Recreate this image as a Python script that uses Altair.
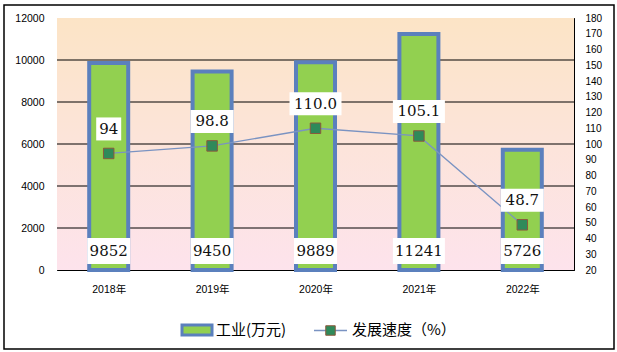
import altair as alt
import pandas as pd

# ---- data ----
years = ["2018年", "2019年", "2020年", "2021年", "2022年"]
industry = [9852, 9450, 9889, 11241, 5726]
speed = [94, 98.8, 110.0, 105.1, 48.7]
speed_labels = ["94", "98.8", "110.0", "105.1", "48.7"]
left_ticks = [0, 2000, 4000, 6000, 8000, 10000, 12000]
right_ticks = [20, 30, 40, 50, 60, 70, 80, 90, 100, 110, 120, 130, 140, 150, 160, 170, 180]
series_names = ["工业(万元)", "发展速度（%）"]

W, H = 517, 252
BAR_FILL = "#92D050"
BAR_STROKE = "#5B80BD"
LINE_COLOR = "#7A93C2"
MARK_FILL = "#2F8A5A"
MARK_STROKE = "#8B5A3C"
LABEL_FONT = "DejaVu Serif"
AXIS_FONT = "Liberation Sans, Noto Sans CJK SC"


def box(w, h):
    return f"M{-w/2},{-h/2}L{w/2},{-h/2}L{w/2},{h/2}L{-w/2},{h/2}Z"


df = pd.DataFrame({"year": years, "industry": industry, "speed": speed,
                   "speed_label": speed_labels})
df["ind_label"] = [str(v) for v in industry]
df["ind_box"] = [box(9.0 * len(s) + 7, 26) for s in df["ind_label"]]
df["spd_box"] = [box(9.0 * len(s) + 7, 23) for s in speed_labels]

x_enc = alt.X("year:N", sort=years,
              scale=alt.Scale(paddingInner=0, paddingOuter=0),
              axis=alt.Axis(title=None, labelAngle=0, offset=-7, tickSize=7,
                            tickBand="extent", domain=False, labelPadding=14,
                            labelFontSize=10.5, labelFont=AXIS_FONT,
                            labelColor="#000", tickColor="#000", grid=False))


def y_left(field):
    return alt.Y(f"{field}:Q", scale=alt.Scale(domain=[0, 12000], nice=False),
                 axis=alt.Axis(title=None, values=left_ticks, format="d", ticks=False,
                               domain=False, grid=False, labelPadding=13,
                               labelFontSize=10.5, labelFont=AXIS_FONT,
                               labelColor="#000"))


y_right = alt.Y("speed:Q", scale=alt.Scale(domain=[20, 180], nice=False),
                axis=alt.Axis(title=None, orient="right", values=right_ticks, format="d",
                              offset=-5, tickSize=5, domain=False, grid=False,
                              labelPadding=11, labelFontSize=10,
                              labelFont="Liberation Sans", labelColor="#000",
                              tickColor="#000"))

one = alt.Data(values=[{}])

bg = alt.Chart(one).mark_rect(
    fill=alt.Gradient(gradient="linear",
                      stops=[alt.GradientStop(color="#FCE4C6", offset=0),
                             alt.GradientStop(color="#FCE4DA", offset=0.5),
                             alt.GradientStop(color="#FDE3EC", offset=1)],
                      x1=0, x2=0, y1=0, y2=1)
).encode(x=alt.value(0), x2=alt.value("width"), y=alt.value(0), y2=alt.value("height"))

grid = alt.Chart(pd.DataFrame({"g": left_ticks[1:-1]})).mark_rule(
    color="black", strokeWidth=1).encode(y=y_left("g"))

bars = alt.Chart(df).mark_bar(width=39, fill=BAR_FILL, stroke=BAR_STROKE,
                              strokeWidth=4).encode(x=x_enc, y=y_left("industry"))

bar_boxes = alt.Chart(df).mark_point(filled=True, fill="white", size=4, opacity=1,
                                     strokeWidth=0, yOffset=-19).encode(
    x=x_enc, y=alt.value("height"), shape=alt.Shape("ind_box:N", scale=None))

bar_text = alt.Chart(df).mark_text(font=LABEL_FONT, fontSize=15, color="#111",
                                   baseline="middle", dy=-19).encode(
    x=x_enc, y=alt.value("height"), text="ind_label:N")

left_group = alt.layer(bg, grid, bars, bar_boxes, bar_text)

line = alt.Chart(df).mark_line(color=LINE_COLOR, strokeWidth=1.3).encode(x=x_enc, y=y_right)
pts = alt.Chart(df).mark_point(shape="square", filled=True, fill=MARK_FILL,
                               stroke=MARK_STROKE, strokeWidth=1, size=110,
                               opacity=1).encode(x=x_enc, y=y_right)
spd_boxes = alt.Chart(df).mark_point(filled=True, fill="white", size=4, opacity=1,
                                     strokeWidth=0, yOffset=-24.5).encode(
    x=x_enc, y=y_right, shape=alt.Shape("spd_box:N", scale=None))
spd_text = alt.Chart(df).mark_text(font=LABEL_FONT, fontSize=15, color="#111",
                                   baseline="middle", dy=-24.5).encode(
    x=x_enc, y=y_right, text="speed_label:N")

right_group = alt.layer(line, pts, spd_boxes, spd_text)

# decoration: outer frame and manual legend
frame = alt.Chart(one).mark_rect(fill="transparent", stroke="black", strokeWidth=1.5).encode(
    x=alt.value(-53), x2=alt.value(557), y=alt.value(-13), y2=alt.value(331))
leg_rect = alt.Chart(one).mark_rect(fill=BAR_FILL, stroke=BAR_STROKE, strokeWidth=3).encode(
    x=alt.value(125), x2=alt.value(155), y=alt.value(307), y2=alt.value(317))
leg_text1 = alt.Chart(one).mark_text(align="left", baseline="middle", fontSize=15,
                                     font="Noto Sans CJK SC", color="black").encode(
    x=alt.value(159), y=alt.value(312), text=alt.value(series_names[0]))
leg_rule = alt.Chart(one).mark_rule(color=LINE_COLOR, strokeWidth=1.5).encode(
    x=alt.value(257), x2=alt.value(290), y=alt.value(312.5))
leg_pt = alt.Chart(one).mark_point(shape="square", filled=True, fill=MARK_FILL,
                                   stroke=MARK_STROKE, strokeWidth=1, size=90,
                                   opacity=1).encode(x=alt.value(273.5), y=alt.value(312.5))
leg_text2 = alt.Chart(one).mark_text(align="left", baseline="middle", fontSize=15,
                                     font="Noto Sans CJK SC", color="black").encode(
    x=alt.value(295), y=alt.value(312), text=alt.value(series_names[1]))

deco = alt.layer(frame, leg_rect, leg_text1, leg_rule, leg_pt, leg_text2)

chart = alt.layer(left_group, right_group, deco).resolve_scale(y="independent").properties(
    width=W, height=H,
    autosize=alt.AutoSizeParams(type="none"),
    padding={"left": 57, "top": 18, "right": 43, "bottom": 82},
    background="white",
).configure_view(stroke="black", strokeWidth=1)

chart.save("out.html", embed_options={"renderer": "svg", "actions": False})
